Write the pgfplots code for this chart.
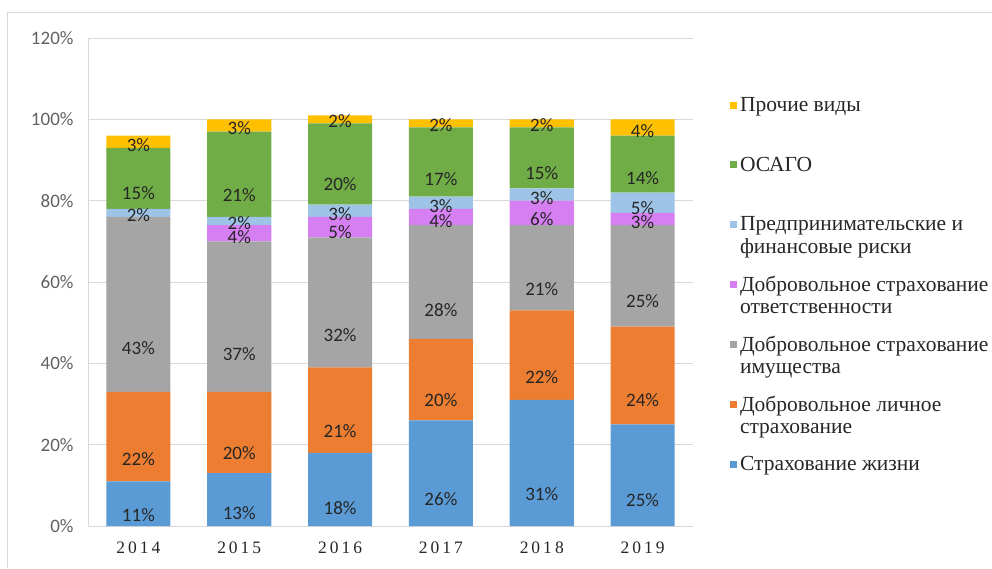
\documentclass[border=0pt]{standalone}
\usepackage{pgfplots}
\pgfplotsset{compat=1.18}
\usepackage{fontspec}
\setmainfont{Liberation Serif}
\newfontfamily\calib{Carlito}
\definecolor{cLife}{HTML}{5B9BD5}
\definecolor{cPers}{HTML}{ED7D31}
\definecolor{cProp}{HTML}{A5A5A5}
\definecolor{cLiab}{HTML}{D67FF2}
\definecolor{cRisk}{HTML}{9DC3E6}
\definecolor{cOsago}{HTML}{70AD47}
\definecolor{cOther}{HTML}{FFC000}
\definecolor{gridc}{HTML}{D9D9D9}
\definecolor{lblc}{HTML}{262626}
\newcommand{\lgone}[1]{\parbox[t]{270pt}{\raggedright\rule{0pt}{15pt}#1\rule[-44.7pt]{0pt}{44.7pt}}}
\newcommand{\lglast}[1]{\parbox[t]{270pt}{\raggedright\rule{0pt}{15pt}#1\rule[-5pt]{0pt}{5pt}}}
\newcommand{\lgtwo}[2]{\parbox[t]{270pt}{\raggedright\rule{0pt}{15pt}#1\\#2\rule[-22.4pt]{0pt}{22.4pt}}}
\newcommand{\yr}[4]{#1\kern3pt#2\kern3pt#3\kern3pt#4}
\pgfplotsset{sq/.style={legend image code/.code={\fill[##1,draw=none] (0pt,3pt) rectangle (7pt,10pt);}}}
\begin{document}
\begin{tikzpicture}[x=1pt,y=1pt]
\useasboundingbox (-88,-42) rectangle (904,526);
\draw[gridc, line width=1pt] (-80,-42) -- (-80,513) -- (904,513);
\begin{axis}[
  at={(0pt,0pt)}, anchor=south west,
  scale only axis, width=605pt, height=488pt,
  ybar stacked, bar width=0.635,
  xmin=-0.5, xmax=5.5, ymin=0, ymax=120,
  xtick={0,1,2,3,4,5},
  xticklabels={\yr2014,\yr2015,\yr2016,\yr2017,\yr2018,\yr2019},
  ytick={0,20,40,60,80,100,120},
  yticklabels={0\%,20\%,40\%,60\%,80\%,100\%,120\%},
  axis x line*=bottom, axis y line*=left,
  axis line style={draw=gridc, line width=0.9pt, -},
  major tick length=0pt,
  ymajorgrids, grid style={draw=gridc, line width=0.9pt},
  yticklabel style={font=\calib\fontsize{19}{22}\selectfont, text=black!62, anchor=east, xshift=-11pt},
  xticklabel style={font=\fontsize{17.5}{20}\selectfont, text=black!85, yshift=-12pt},
  visualization depends on=rawy \as \rawy,
  nodes near coords={\pgfmathtruncatemacro\vv{\rawy}\ifnum\vv>0 \vv\%\fi},
  every node near coord/.append style={font=\calib\fontsize{19}{22}\selectfont, text=lblc, anchor=center, yshift={-\rawy*1.016667pt}},
  reverse legend,
  legend style={at={(1.0612,0.8801)}, anchor=north west, draw=none, fill=none, inner sep=0pt, outer sep=0pt, row sep=0pt, column sep=3pt, font=\fontsize{21.5}{22.3}\selectfont, text=lblc, cells={anchor=base west}, nodes={inner sep=0pt, outer sep=0pt, text depth={}, text height={}}},
]
\addplot[fill=cLife, draw=none, sq] coordinates {(0,11) (1,13) (2,18) (3,26) (4,31) (5,25)};
\addlegendentry{\lglast{Страхование жизни}}
\addplot[fill=cPers, draw=none, sq] coordinates {(0,22) (1,20) (2,21) (3,20) (4,22) (5,24)};
\addlegendentry{\lgtwo{Добровольное личное}{страхование}}
\addplot[fill=cProp, draw=none, sq] coordinates {(0,43) (1,37) (2,32) (3,28) (4,21) (5,25)};
\addlegendentry{\lgtwo{Добровольное страхование}{имущества}}
\addplot[fill=cLiab, draw=none, sq] coordinates {(0,0) (1,4) (2,5) (3,4) (4,6) (5,3)};
\addlegendentry{\lgtwo{Добровольное страхование}{ответственности}}
\addplot[fill=cRisk, draw=none, sq] coordinates {(0,2) (1,2) (2,3) (3,3) (4,3) (5,5)};
\addlegendentry{\lgtwo{Предпринимательские и}{финансовые риски}}
\addplot[fill=cOsago, draw=none, sq] coordinates {(0,15) (1,21) (2,20) (3,17) (4,15) (5,14)};
\addlegendentry{\lgone{ОСАГО}}
\addplot[fill=cOther, draw=none, sq] coordinates {(0,3) (1,3) (2,2) (3,2) (4,2) (5,4)};
\addlegendentry{\lgone{Прочие виды}}
\end{axis}
\end{tikzpicture}
\end{document}
